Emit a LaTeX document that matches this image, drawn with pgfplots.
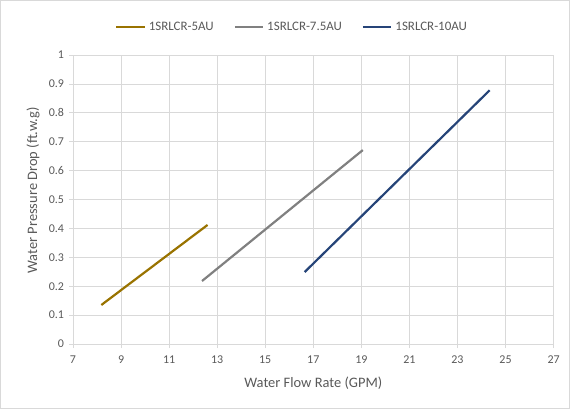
\documentclass[border=0pt]{standalone}
\usepackage{fontspec}
\setmainfont{Carlito}
\usepackage{pgfplots}
\pgfplotsset{compat=1.18}
\definecolor{gridgray}{HTML}{D9D9D9}
\definecolor{txtgray}{HTML}{595959}
\definecolor{cgold}{HTML}{997300}
\definecolor{cgray}{HTML}{808080}
\definecolor{cblue}{HTML}{264478}
\begin{document}
\begin{tikzpicture}[x=1bp,y=1bp]
\path[use as bounding box] (0,0) rectangle (570,409);
\draw[gridgray, line width=0.75bp] (0.5,0.5) rectangle (569.5,408.5);
\begin{axis}[
  at={(73bp,65bp)}, anchor=south west,
  scale only axis, width=480.6bp, height=289bp,
  xmin=7, xmax=27, ymin=0, ymax=1,
  xtick={7,9,11,13,15,17,19,21,23,25,27},
  ytick={0,0.1,0.2,0.3,0.4,0.5,0.6,0.7,0.8,0.9,1},
  yticklabels={0,0.1,0.2,0.3,0.4,0.5,0.6,0.7,0.8,0.9,1},
  grid=major,
  grid style={gridgray, line width=0.75bp},
  axis line style={gridgray, line width=0.75bp},
  tick style={gridgray, line width=0.75bp},
  tick align=outside, major tick length=4bp,
  xtick pos=bottom, ytick pos=left,
  /pgf/number format/assume math mode=true,
  ticklabel style={font=\fontsize{12}{14}\selectfont, text=txtgray},
  xticklabel style={yshift=-4bp},
  yticklabel style={xshift=-1.5bp},
  xlabel={Water Flow Rate (GPM)},
  ylabel={Water Pressure Drop (ft.w.g)},
  label style={font=\fontsize{14.5}{17}\selectfont, text=txtgray},
  xlabel style={at={(axis description cs:0.5,-0.134)}, anchor=center},
  ylabel style={at={(axis description cs:-0.0832,0.531)}, anchor=center},
  legend columns=3,
  legend style={at={(0.456,1.098)}, anchor=center, draw=none, fill=none,
    font=\fontsize{13}{15}\selectfont, text=txtgray,
    /tikz/every odd column/.append style={column sep=1bp},
    /tikz/every even column/.append style={column sep=18bp}},
  legend image code/.code={\draw[#1, line width=2bp] (0bp,0bp) -- (28.5bp,0bp);},
]
\addplot[cgold, line width=2.2bp] coordinates {(8.18,0.135) (12.6,0.412)};
\addlegendentry{1SRLCR-5AU}
\addplot[cgray, line width=2.2bp] coordinates {(12.37,0.218) (19.06,0.671)};
\addlegendentry{1SRLCR-7.5AU}
\addplot[cblue, line width=2.2bp] coordinates {(16.64,0.249) (24.34,0.878)};
\addlegendentry{1SRLCR-10AU}
\end{axis}
\end{tikzpicture}
\end{document}
